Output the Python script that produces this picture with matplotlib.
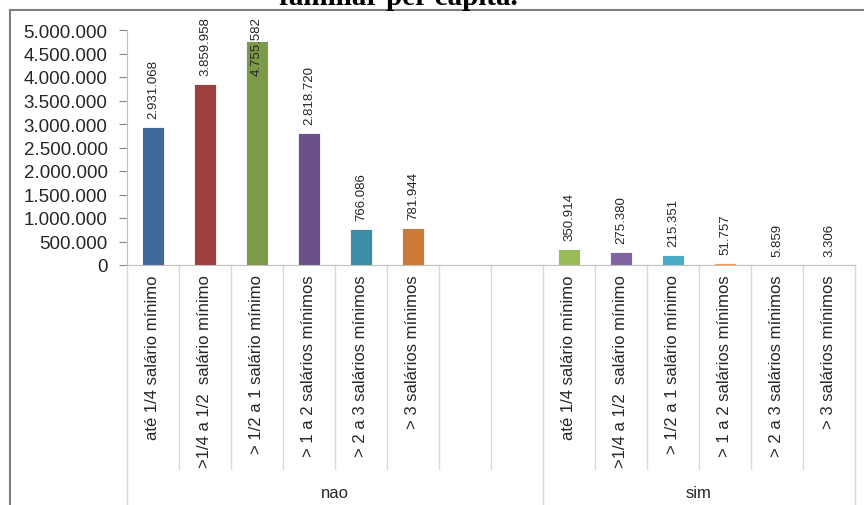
import matplotlib
matplotlib.use("Agg")
import matplotlib.pyplot as plt
from matplotlib.lines import Line2D
from matplotlib.ticker import FuncFormatter, MultipleLocator

# categorias de renda familiar per capita
faixas = ["até 1/4 salário mínimo", ">1/4 a 1/2  salário mínimo", "> 1/2 a 1 salário mínimo",
          "> 1 a 2 salários mínimos", "> 2 a 3 salários mínimos", "> 3 salários mínimos"]
grupos = ["nao", "sim"]
valores_nao = [2931068, 3859958, 4755582, 2818720, 766086, 781944]
valores_sim = [350914, 275380, 215351, 51757, 5859, 3306]

cores_nao = ["#41699A", "#9E3F3D", "#7C9A48", "#6A5187", "#3B8EA5", "#CE7A37"]
cores_sim = ["#9BBB59", "#8064A2", "#4BACC6", "#F79646", "#95B3D7", "#E6A3A2"]

fonte = "Liberation Sans"
W, H = 864, 506
fig = plt.figure(figsize=(W / 100, H / 100), dpi=100)
ax = fig.add_axes([127 / W, 1 - 266 / H, (855 - 127) / W, 235 / H])

# posicoes: 6 barras "nao", 2 vazias, 6 barras "sim"
x_nao = list(range(6))
x_sim = list(range(8, 14))
rotulos = faixas + ["", ""] + faixas

ax.bar(x_nao, valores_nao, width=0.42, color=cores_nao, edgecolor="white", linewidth=0.6)
ax.bar(x_sim, valores_sim, width=0.42, color=cores_sim, edgecolor="white", linewidth=0.6)

ax.set_xlim(-0.5, 13.5)
ax.set_ylim(0, 5000000)
ax.yaxis.set_major_locator(MultipleLocator(500000))
ax.yaxis.set_major_formatter(FuncFormatter(lambda v, p: f"{int(v):,}".replace(",", ".")))
ax.tick_params(axis="y", length=6, color="#868686", labelsize=13.5, labelcolor="#262626", pad=8)
for t in ax.get_yticklabels():
    t.set_fontfamily(fonte)
ax.set_xticks([])
for s in ["top", "right"]:
    ax.spines[s].set_visible(False)
ax.spines["left"].set_color("#BFBFBF")
ax.spines["bottom"].set_color("#BFBFBF")

# rotulos de dados (limitados ao topo do grafico)
limite = 3860000
for xs, vs in [(x_nao, valores_nao), (x_sim, valores_sim)]:
    for x, v in zip(xs, vs):
        ax.annotate(f"{v:,}".replace(",", "."), (x, min(v, limite)), xytext=(0, 9),
                    textcoords="offset pixels", rotation=90, ha="center", va="bottom",
                    fontsize=9.5, color="#262626", family=fonte, annotation_clip=False)

# eixo de categorias em dois niveis
tr = ax.get_xaxis_transform()
for i, r in enumerate(rotulos):
    ax.text(i, -0.04, r, transform=tr, rotation=90, ha="center", va="top",
            fontsize=12, color="#262626", family=fonte)
for b in [k + 0.5 for k in range(-1, 14)]:
    fim = -1.1 if b in (-0.5, 7.5, 13.5) else -0.868
    ax.add_line(Line2D([b, b], [0, fim], transform=tr, color="#D9D9D9", lw=1, clip_on=False))
ax.text(3.5, -0.966, grupos[0], transform=tr, ha="center", va="center",
        fontsize=12, color="#262626", family=fonte)
ax.text(10.5, -0.966, grupos[1], transform=tr, ha="center", va="center",
        fontsize=12, color="#262626", family=fonte)

# moldura e titulo
fig.add_artist(Line2D([10 / W, 10 / W], [0, 1 - 11 / H], color="#7F7F7F", lw=1.5))
fig.add_artist(Line2D([10 / W, 1], [1 - 11 / H, 1 - 11 / H], color="#7F7F7F", lw=1.5))
fig.text(398 / W, 1 - 5 / H, "familiar per capita.", ha="center", va="baseline",
         fontsize=21, fontweight="bold", family="Liberation Serif")

fig.savefig("out.png", dpi=100)
